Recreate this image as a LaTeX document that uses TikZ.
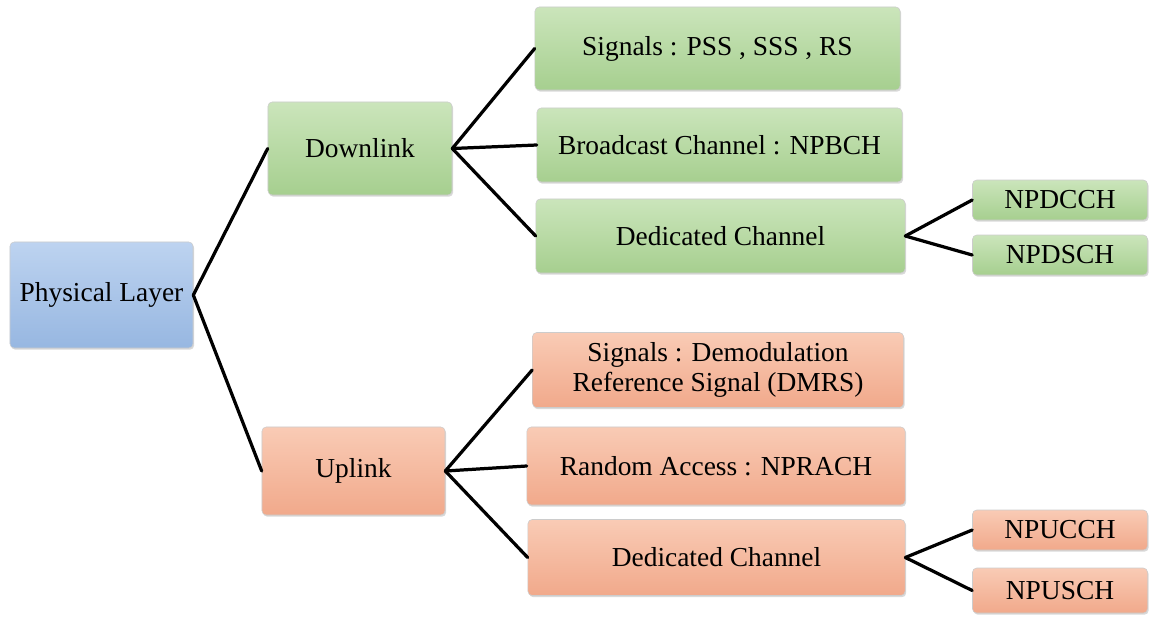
\documentclass[tikz,border=0pt]{standalone}
\usepackage{fontspec}
\setmainfont{Liberation Serif}
\usetikzlibrary{shadows}

\definecolor{greentop}{HTML}{CBE5BB}
\definecolor{greenbot}{HTML}{A6CF8F}
\definecolor{bluetop}{HTML}{BDD3F0}
\definecolor{bluebot}{HTML}{97B7E1}
\definecolor{orangetop}{HTML}{F9CBB5}
\definecolor{orangebot}{HTML}{F1A98B}

\begin{document}
\begin{tikzpicture}[x=0.025cm,y=-0.025cm,
    box/.style={rectangle,rounded corners=3pt,draw=white!80!black,line width=0.4pt,
      inner sep=0pt,align=center,font=\rmfamily\fontsize{19.5}{21}\selectfont,
      drop shadow={opacity=0.3,shadow xshift=0.8pt,shadow yshift=-1.2pt}},
    greenbox/.style={box,top color=greentop,bottom color=greenbot},
    bluebox/.style={box,top color=bluetop,bottom color=bluebot},
    orangebox/.style={box,top color=orangetop,bottom color=orangebot},
    link/.style={line width=2.3pt,line cap=round}]
        \useasboundingbox (0,0) rectangle (1157,620);

        % root
        \node[bluebox,minimum width=4.575cm,minimum height=2.65cm] (phy) at (101.5,295) {Physical Layer};

        % downlink side
        \node[greenbox,minimum width=4.6cm,minimum height=2.325cm] (dl) at (360,148.5) {Downlink};
        \node[greenbox,minimum width=9.125cm,minimum height=2.075cm] (dlsig) at (717.5,48.5) {Signals : PSS , SSS , RS};
        \node[greenbox,minimum width=9.125cm,minimum height=1.85cm] (dlbch) at (719.5,145) {Broadcast Channel : NPBCH};
        \node[greenbox,minimum width=9.225cm,minimum height=1.85cm] (dlded) at (720.5,236) {Dedicated Channel};
        \node[greenbox,minimum width=4.375cm,minimum height=1cm] (npdcch) at (1060,200) {NPDCCH};
        \node[greenbox,minimum width=4.375cm,minimum height=1cm] (npdsch) at (1060,255) {NPDSCH};

        % uplink side
        \node[orangebox,minimum width=4.575cm,minimum height=2.2cm] (ul) at (353.5,471) {Uplink};
        \node[orangebox,minimum width=9.275cm,minimum height=1.875cm] (ulsig) at (718,370) {Signals : Demodulation\\Reference Signal (DMRS)};
        \node[orangebox,minimum width=9.45cm,minimum height=1.95cm] (ulrach) at (716,466) {Random Access : NPRACH};
        \node[orangebox,minimum width=9.425cm,minimum height=1.9cm] (ulded) at (716.5,557.5) {Dedicated Channel};
        \node[orangebox,minimum width=4.375cm,minimum height=1cm] (npucch) at (1060,530) {NPUCCH};
        \node[orangebox,minimum width=4.375cm,minimum height=1.125cm] (npusch) at (1060,590.5) {NPUSCH};

        \draw[link] (phy.east) -- (dl.west);
        \draw[link] (phy.east) -- (ul.west);

        \draw[link] (dl.east) -- (dlsig.west);
        \draw[link] (dl.east) -- (dlbch.west);
        \draw[link] (dl.east) -- (dlded.west);
        \draw[link] (dlded.east) -- (npdcch.west);
        \draw[link] (dlded.east) -- (npdsch.west);

        \draw[link] (ul.east) -- (ulsig.west);
        \draw[link] (ul.east) -- (ulrach.west);
        \draw[link] (ul.east) -- (ulded.west);
        \draw[link] (ulded.east) -- (npucch.west);
        \draw[link] (ulded.east) -- (npusch.west);
      \end{tikzpicture}
\end{document}
